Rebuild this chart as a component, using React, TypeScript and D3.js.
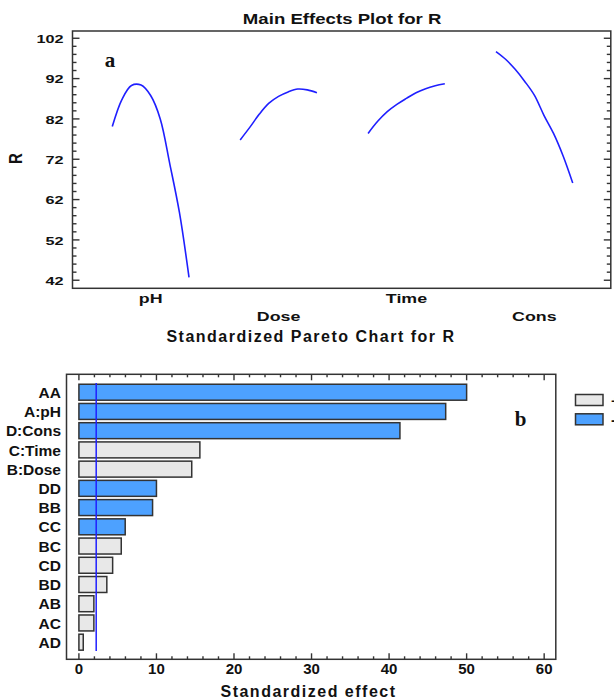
import { useEffect, useRef } from 'react';
import * as d3 from 'd3';

const width = 614;
const height = 699;
const font = '"Liberation Sans", Arial, sans-serif';

// top panel: main effects, R read at 9 evenly spaced levels of each factor (low -> high)
const factors = ['pH', 'Dose', 'Time', 'Cons'];
const rPH = [80.1, 86.8, 90.3, 90.4, 87.8, 82.0, 70.8, 58.8, 42.7];
const rDose = [76.8, 79.9, 83.2, 85.9, 87.6, 88.7, 89.4, 89.2, 88.5];
const rTime = [78.4, 81.4, 83.8, 85.6, 87.1, 88.5, 89.5, 90.2, 90.7];
const rCons = [98.7, 96.8, 94.3, 91.3, 87.9, 82.9, 78.4, 72.8, 66.1];
const rTicks = [42, 52, 62, 72, 82, 92, 102];

// bottom panel: pareto chart
const terms = ['AA', 'A:pH', 'D:Cons', 'C:Time', 'B:Dose', 'DD', 'BB', 'CC', 'BC', 'CD', 'BD', 'AB', 'AC', 'AD'];
const effects = [50.0, 47.3, 41.4, 15.6, 14.55, 10.0, 9.5, 5.97, 5.46, 4.35, 3.6, 1.93, 1.93, 0.56];
const signs = ['-', '-', '-', '+', '+', '-', '-', '-', '+', '+', '+', '+', '+', '+'];
const effectTicks = [0, 10, 20, 30, 40, 50, 60];
const critical = 2.23;
const legendSigns = ['+', '-'];

const blue = '#4da1ff';
const grey = '#e8e8e8';
const edge = '#333333';
const lineBlue = '#1f1fff';

export default function App() {
    const ref = useRef<SVGSVGElement>(null);

    useEffect(() => {
        const svg = d3.select(ref.current);
        svg.selectAll('*').remove();

        // text that is stretched sideways like the source picture
        const label = (
            g: any,
            s: string,
            x: number,
            y: number,
            size: number,
            anchor = 'middle',
            sx = 1,
            family = font
        ) =>
            g
                .append('text')
                .attr('transform', `translate(${x},${y}) scale(${sx},1)`)
                .attr('text-anchor', anchor)
                .attr('font-family', family)
                .attr('font-weight', 'bold')
                .attr('font-size', size)
                .attr('fill', '#111')
                .text(s);

        /* ---------------- main effects plot ---------------- */
        const top = svg.append('g');
        const [fx0, fx1, fy0, fy1] = [72.5, 610.8, 31, 288.3];

        const y = d3.scaleLinear().domain([40, 103.8]).range([fy1, fy0]);
        const band = d3.scaleBand().domain(factors).range([86.7, 598.3]).paddingInner(0.4).paddingOuter(0.2);

        label(top, 'Main Effects Plot for R', (fx0 + fx1) / 2 + 0.5, 24.3, 14, 'middle', 1.33);

        // ticks on both sides, pointing in
        const minorR = d3.range(44, 103, 2).filter((v) => !rTicks.includes(v));
        const tickG = top.append('g').attr('stroke', edge).attr('stroke-width', 1.4);
        [...rTicks.map((v) => [v, 7]), ...minorR.map((v) => [v, 4])].forEach(([v, len]) => {
            tickG.append('line').attr('x1', fx0).attr('x2', fx0 + len).attr('y1', y(v)).attr('y2', y(v));
            tickG.append('line').attr('x1', fx1 - len).attr('x2', fx1).attr('y1', y(v)).attr('y2', y(v));
        });
        rTicks.forEach((v) => label(top, String(v), 63.5, y(v) + 4.8, 11.6, 'end', 1.4));

        top.append('rect')
            .attr('x', fx0)
            .attr('y', fy0)
            .attr('width', fx1 - fx0)
            .attr('height', fy1 - fy0)
            .attr('fill', 'none')
            .attr('stroke', edge)
            .attr('stroke-width', 1.5);

        label(top, 'R', 0, 0, 15, 'middle').attr('transform', 'translate(21.5,158.5) rotate(-90) scale(1,1.2)');
        label(top, 'a', 110, 67.3, 21, 'middle', 1, '"Liberation Serif", "Times New Roman", serif');

        const series = [rPH, rDose, rTime, rCons];
        factors.forEach((f, i) => {
            const vals = series[i];
            const x = d3
                .scaleLinear()
                .domain([0, vals.length - 1])
                .range([band(f)!, band(f)! + band.bandwidth()]);
            const line = d3
                .line<number>()
                .x((_d, j) => x(j))
                .y((d) => y(d))
                .curve(d3.curveCatmullRom);
            top.append('path')
                .attr('d', line(vals))
                .attr('fill', 'none')
                .attr('stroke', lineBlue)
                .attr('stroke-width', 1.6);
            // staggered category labels
            label(top, f, band(f)! + band.bandwidth() / 2, i % 2 === 0 ? 303.3 : 321, 13, 'middle', 1.37);
        });

        /* ---------------- pareto chart ---------------- */
        const bot = svg.append('g');
        const [bx0, bx1, by0, by1] = [66.5, 555.8, 374.3, 659.3];

        const x = d3.scaleLinear().domain([-1.6, 61.5]).range([bx0, bx1]);
        const rows = d3.scaleBand().domain(terms).range([382.6, 651.8]).paddingInner(0.17).paddingOuter(0.085);

        bot.append('text')
            .attr('x', 311)
            .attr('y', 341.7)
            .attr('text-anchor', 'middle')
            .attr('font-family', font)
            .attr('font-weight', 'bold')
            .attr('font-size', 16)
            .attr('letter-spacing', 1.5)
            .attr('fill', '#111')
            .text('Standardized Pareto Chart for R');

        const bTicks = bot.append('g').attr('stroke', edge).attr('stroke-width', 1.4);
        const minorE = d3.range(2, 61, 2).filter((v) => !effectTicks.includes(v));
        [...effectTicks.map((v) => [v, 6]), ...minorE.map((v) => [v, 3])].forEach(([v, len]) => {
            bTicks.append('line').attr('x1', x(v)).attr('x2', x(v)).attr('y1', by0).attr('y2', by0 + len);
            bTicks.append('line').attr('x1', x(v)).attr('x2', x(v)).attr('y1', by1 - len).attr('y2', by1);
        });

        bot.append('g')
            .selectAll('rect')
            .data(terms)
            .join('rect')
            .attr('x', x(0))
            .attr('y', (d) => rows(d)!)
            .attr('width', (_d, i) => x(effects[i]) - x(0))
            .attr('height', rows.bandwidth())
            .attr('fill', (_d, i) => (signs[i] === '-' ? blue : grey))
            .attr('stroke', edge)
            .attr('stroke-width', 1.5);

        bot.append('line')
            .attr('x1', x(critical))
            .attr('x2', x(critical))
            .attr('y1', 383)
            .attr('y2', 651)
            .attr('stroke', lineBlue)
            .attr('stroke-width', 1.5);

        bot.append('rect')
            .attr('x', bx0)
            .attr('y', by0)
            .attr('width', bx1 - bx0)
            .attr('height', by1 - by0)
            .attr('fill', 'none')
            .attr('stroke', edge)
            .attr('stroke-width', 1.5);

        terms.forEach((t) => label(bot, t, 61, rows(t)! + rows.bandwidth() / 2 + 5.6, 15.5, 'end'));
        effectTicks.forEach((v) => label(bot, String(v), x(v), 674.3, 15, 'middle'));

        bot.append('text')
            .attr('x', 308.5)
            .attr('y', 696.7)
            .attr('text-anchor', 'middle')
            .attr('font-family', font)
            .attr('font-weight', 'bold')
            .attr('font-size', 16)
            .attr('letter-spacing', 1.5)
            .attr('fill', '#111')
            .text('Standardized effect');

        label(bot, 'b', 520.5, 426, 21, 'middle', 1, '"Liberation Serif", "Times New Roman", serif');

        // legend, cut off by the right edge
        legendSigns.forEach((s, i) => {
            bot.append('rect')
                .attr('x', 575.5)
                .attr('y', 394.5 + i * 19.3)
                .attr('width', 27.5)
                .attr('height', 11)
                .attr('fill', s === '-' ? blue : grey)
                .attr('stroke', edge)
                .attr('stroke-width', 1.5);
            label(bot, s, 611, 405.5 + i * 19.3, 15, 'start');
        });
    }, []);

    return (
        <svg
            ref={ref}
            width={width}
            height={height}
            viewBox={`0 0 ${width} ${height}`}
            style={{ position: 'absolute', left: 0, top: 0, background: '#fff' }}
        />
    );
}
